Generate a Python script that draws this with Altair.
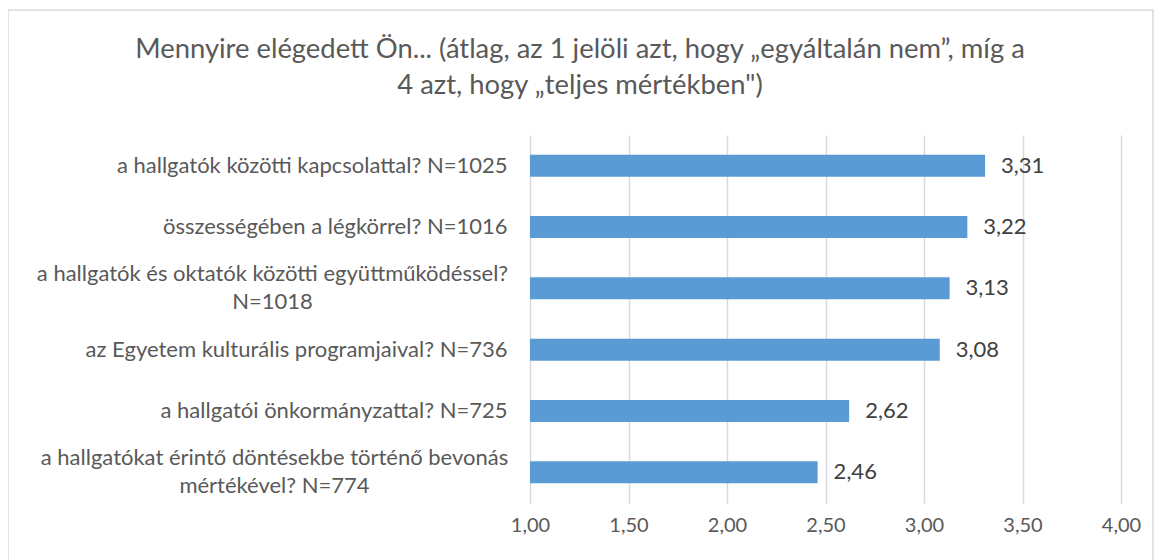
import altair as alt
import pandas as pd

categories = [
    "a hallgatók közötti kapcsolattal? N=1025",
    "összességében a légkörrel? N=1016",
    "a hallgatók és oktatók közötti együttműködéssel?|N=1018",
    "az Egyetem kulturális programjaival? N=736",
    "a hallgatói önkormányzattal? N=725",
    "a hallgatókat érintő döntésekbe történő bevonás|mértékével? N=774",
]
values = [3.31, 3.22, 3.13, 3.08, 2.62, 2.46]
x_ticks = [1.0, 1.5, 2.0, 2.5, 3.0, 3.5, 4.0]
title_lines = [
    "Mennyire elégedett Ön... (átlag, az 1 jelöli azt, hogy „egyáltalán nem”, míg a",
    "4 azt, hogy „teljes mértékben\")",
]

df = pd.DataFrame({"cat": categories, "value": values, "base": [1.0] * len(values)})
title_df = pd.DataFrame({"k": [0]})

FONT = "Lato"
TXT = "#595959"
GRID = "#D9D9D9"
BAR = "#5B9BD5"

W, H = 591, 368

MULTI = "indexof(datum.label, '|') >= 0"

x_scale = alt.Scale(domain=[1, 4], nice=False, zero=False)
y_enc = alt.Y(
    "cat:N",
    sort=categories,
    scale=alt.Scale(paddingInner=0.64, paddingOuter=0.32),
    axis=alt.Axis(
        title=None,
        ticks=False,
        domain=False,
        labelExpr="split(datum.label, '|')",
        labelFont=FONT,
        labelFontSize=22,
        labelColor=TXT,
        labelLineHeight=28,
        labelLimit=600,
        labelAlign={"condition": {"test": MULTI, "value": "center"}, "value": "right"},
        labelPadding={
            "condition": [
                {"test": "indexof(datum.label, 'együttműködéssel') >= 0", "value": 258},
                {"test": "indexof(datum.label, 'bevonás') >= 0", "value": 256},
            ],
            "value": 23,
        },
        labelOffset={"condition": {"test": MULTI, "value": -14}, "value": 0},
    ),
)

base = alt.Chart(df)

bars = base.mark_bar(color=BAR).encode(
    x=alt.X(
        "base:Q",
        scale=x_scale,
        axis=alt.Axis(
            values=x_ticks,
            title=None,
            ticks=False,
            domain=False,
            grid=True,
            gridColor=GRID,
            gridWidth=1.5,
            labelFlush=False,
            labelExpr="replace(format(datum.value, '.2f'), '.', ',')",
            labelFont=FONT,
            labelFontSize=20,
            labelColor=TXT,
            labelPadding=12,
        ),
    ),
    x2="value:Q",
    y=y_enc,
)

labels = base.transform_calculate(
    lbl="replace(format(datum.value, '.2f'), '.', ',')"
).mark_text(
    align="left", baseline="middle", dx=16, font=FONT, fontSize=22, color="#404040"
).encode(
    x=alt.X("value:Q", scale=x_scale),
    y=alt.Y("cat:N", sort=categories),
    text="lbl:N",
)

title = alt.Chart(title_df).mark_text(
    text=title_lines,
    font=FONT,
    fontSize=27.4,
    color=TXT,
    align="center",
    baseline="alphabetic",
    lineHeight=36,
).encode(x=alt.value(50), y=alt.value(-77))

frame = alt.Chart(title_df).mark_rect(fill=None, stroke=GRID, strokeWidth=1.5).encode(
    x=alt.value(-522),
    x2=alt.value(W + 32),
    y=alt.value(-125),
    y2=alt.value(H + 80),
)

chart = (
    alt.layer(frame, bars, labels, title)
    .properties(
        width=W,
        height=H,
        autosize=alt.AutoSizeParams(type="none"),
        padding={"left": 522, "top": 127, "right": 34, "bottom": 57},
    )
    .configure_view(stroke=None)
)

chart.save("out.html", embed_options={"renderer": "svg", "actions": False})
